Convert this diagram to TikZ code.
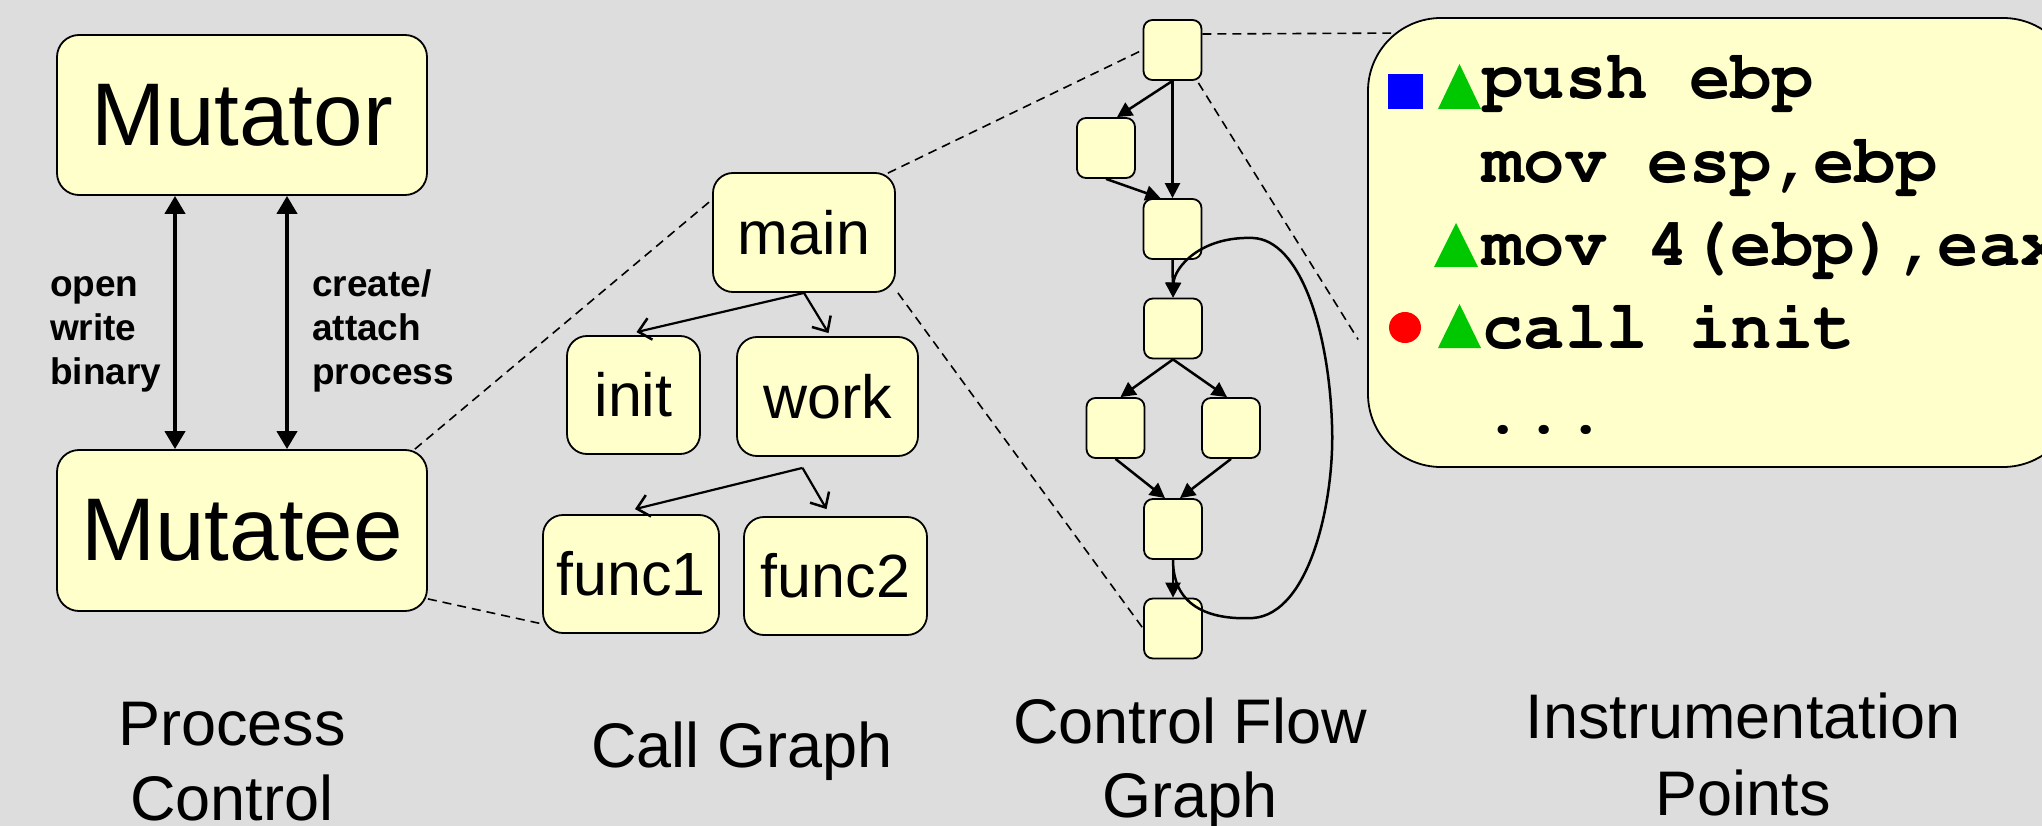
\documentclass[tikz,border=0pt]{standalone}
\usepackage[T1]{fontenc}
\usepackage{fontspec}
\setmainfont{Liberation Sans}
\usetikzlibrary{arrows.meta,calc}
\definecolor{bg}{HTML}{DDDDDD}
\definecolor{boxfill}{HTML}{FFFFCC}
\definecolor{ipgreen}{HTML}{00C800}
\newcommand\codefont{\fontencoding{T1}\fontfamily{pcr}\fontseries{b}\fontshape{n}\fontsize{69}{80}\selectfont}
\begin{document}
\begin{tikzpicture}[x=1pt,y=-1pt,
  bigbox/.style={draw=black, line width=1.8pt, fill=boxfill, rounded corners=22pt, inner sep=0pt, font=\fontsize{89}{100}\selectfont},
  cgbox/.style={draw=black, line width=1.8pt, fill=boxfill, rounded corners=20pt, inner sep=0pt, font=\fontsize{61}{70}\selectfont},
  cfgbox/.style={draw=black, line width=1.8pt, fill=boxfill, rounded corners=9pt, inner sep=0pt, minimum width=58pt, minimum height=60pt},
  cgarrow/.style={line width=2.2pt, -{Straight Barb[length=12pt,width=22pt,line width=2.5pt]}},
  cfgarrow/.style={line width=2.5pt, -{Triangle[length=15pt,width=15pt]}},
  bigarrow/.style={line width=4pt, {Triangle[length=18pt,width=20pt]}-{Triangle[length=18pt,width=20pt]}},
  zoomline/.style={line width=1.6pt, dash pattern=on 9pt off 6pt},
  lbl/.style={anchor=base west, inner sep=0pt, font=\bfseries\fontsize{37}{44}\selectfont},
  captext/.style={anchor=base, inner sep=0pt, font=\fontsize{63}{74}\selectfont},
  codeline/.style={anchor=base west, inner sep=0pt, font=\codefont}]
\useasboundingbox (0,0) rectangle (2042,826);
\clip (0,0) rectangle (2042,826);
\fill[bg] (0,0) rectangle (2042,826);

% Process control
\node[bigbox, minimum width=370pt, minimum height=160pt] (mutator) at (242,115) {Mutator};
\node[bigbox, minimum width=370pt, minimum height=161pt] (mutatee) at (242,530.5) {Mutatee};
\draw[bigarrow] ([xshift=-67pt]mutator.south) -- ([xshift=-67pt]mutatee.north);
\draw[bigarrow] ([xshift=45pt]mutator.south) -- ([xshift=45pt]mutatee.north);
\node[lbl] (l1) at (50,297) {open};
\node[lbl] (l2) at (50,340) {write};
\node[lbl] (l3) at (50,384) {binary};
\node[lbl] (l4) at (312,297) {create/};
\node[lbl] (l5) at (312,340) {attach};
\node[lbl] (l6) at (312,384) {process};

% Call graph
\node[cgbox, minimum width=182pt, minimum height=119pt] (main) at (804,232.5) {main};
\node[cgbox, minimum width=133pt, minimum height=118pt] (init) at (633.5,395) {init};
\node[cgbox, minimum width=181pt, minimum height=119pt] (work) at (827.5,396.5) {work};
\node[cgbox, minimum width=176pt, minimum height=118pt] (func1) at (631,574) {func1};
\node[cgbox, minimum width=183pt, minimum height=118pt] (func2) at (835.5,576) {func2};
\draw[cgarrow] (main.south) -- ([xshift=3pt,yshift=3pt]init.north);
\draw[cgarrow] (main.south) -- ([xshift=1pt,yshift=3pt]work.north);
\coordinate (wk) at ([xshift=-25pt,yshift=-11pt]work.south);
\draw[cgarrow] (wk) -- ([xshift=4pt,yshift=5pt]func1.north);
\draw[cgarrow] (wk) -- ([xshift=-9pt,yshift=7pt]func2.north);

% Control flow graph
\node[cfgbox] (a) at (1172.5,50) {};
\node[cfgbox] (b) at (1106,148) {};
\node[cfgbox] (c) at (1172.5,229) {};
\node[cfgbox] (d) at (1173,328.5) {};
\node[cfgbox] (e) at (1115.5,428) {};
\node[cfgbox] (f) at (1231,428) {};
\node[cfgbox] (g) at (1173,529) {};
\node[cfgbox] (h) at (1173,628.5) {};
\draw[cfgarrow] (a.south) -- ([xshift=11pt]b.north);
\draw[cfgarrow] (a.south) -- (c.north);
\draw[cfgarrow] (b.south) -- ([xshift=-12pt]c.north);
\draw[cfgarrow] (c.south) -- (d.north);
\draw[cfgarrow] (d.south) -- ([xshift=5pt]e.north);
\draw[cfgarrow] (d.south) -- ([xshift=-4pt]f.north);
\draw[cfgarrow] (e.south) -- ([xshift=-8pt]g.north);
\draw[cfgarrow] (f.south) -- ([xshift=7pt]g.north);
\draw[cfgarrow] (g.south) -- (h.north);
\draw[cfgarrow] (g.south) .. controls (1173,610) and (1215,620) .. (1253,618)
  .. controls (1310,614) and (1335,500) .. (1332,425)
  .. controls (1329,330) and (1300,240) .. (1253,238)
  .. controls (1200,236) and (1174,268) .. (d.north);

% Instrumentation points
\node[draw=black, line width=1.8pt, fill=boxfill, rounded corners=73pt, minimum width=708pt, minimum height=449pt, inner sep=0pt] (ibox) at (1722,242.5) {};
\fill[blue] (1388,74) rectangle (1423,109);
\fill[ipgreen] (1438,109) -- (1481,109) -- (1459.5,64) -- cycle;
\fill[ipgreen] (1434,267) -- (1478,267) -- (1456,223) -- cycle;
\fill[ipgreen] (1438,348) -- (1481,348) -- (1459.5,304) -- cycle;
\fill[red] (1405,327.5) ellipse [x radius=16, y radius=15.5];
\node[codeline] (c1) at (1482,99) {push ebp};
\node[codeline] (c2) at (1482,183) {mov esp,ebp};
\node[codeline] (c3) at (1482,266) {mov 4(ebp),eax};
\node[codeline] (c4) at (1482,348) {call init};
\node[codeline] (c5) at (1482,433) {...};

% zoom lines
\draw[zoomline] ([xshift=-13pt]mutatee.north east) -- ([xshift=-3pt,yshift=-30pt]main.north west);
\draw[zoomline] ([yshift=13pt]mutatee.south east) -- ([yshift=10pt]func1.south west);
\draw[zoomline] ([xshift=-8pt,yshift=-1pt]main.north east) -- (a.west);
\draw[zoomline] ([xshift=2pt]main.south east) -- (h.west);
\draw[zoomline] ([yshift=16pt]a.east) -- ([xshift=24pt,yshift=-16pt]ibox.north west);
\draw[zoomline] ([xshift=-4pt,yshift=-2pt]a.south east) -- ([xshift=-9pt,yshift=-97pt]ibox.west);

% captions
\node[captext] (k1) at (232,745) {Process};
\node[captext] (k2) at (232,820) {Control};
\node[captext] (k3) at (742,767) {Call Graph};
\node[captext] (k4) at (1190,743) {Control Flow};
\node[captext] (k5) at (1190,817) {Graph};
\node[captext] (k6) at (1743,738) {Instrumentation};
\node[captext] (k7) at (1743,815) {Points};
\end{tikzpicture}
\end{document}
